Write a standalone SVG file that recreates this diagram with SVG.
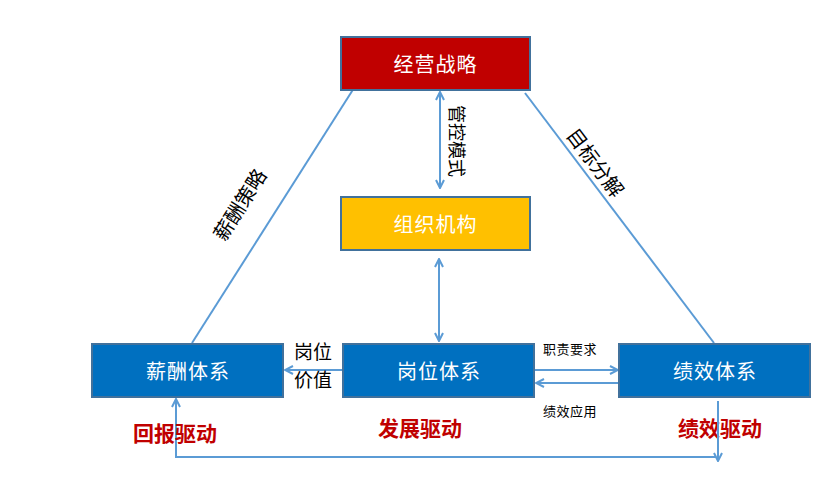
<svg xmlns="http://www.w3.org/2000/svg" width="840" height="488" viewBox="0 0 840 488">
<style>
.box{stroke:#41719C;stroke-width:2}
.bt{font-family:"Noto Sans CJK SC","Noto Sans",sans-serif;font-size:20px;fill:#fff;text-anchor:middle;dominant-baseline:central;letter-spacing:1px}
.lbl{font-family:"Noto Sans CJK SC","Noto Sans",sans-serif;fill:#000;text-anchor:middle;dominant-baseline:central}
.drv{font-family:"Noto Sans CJK SC","Noto Sans",sans-serif;font-size:21px;font-weight:bold;fill:#C00000;text-anchor:middle;dominant-baseline:central}
.ln{stroke:#5B9BD5;stroke-width:2;fill:none}
</style>
<defs>
<marker id="arr" viewBox="0 0 10 10" refX="9" refY="5" markerWidth="10" markerHeight="10" markerUnits="userSpaceOnUse" orient="auto-start-reverse">
<path d="M1,1 L9,5 L1,9" fill="none" stroke="#5B9BD5" stroke-width="2"/>
</marker>
</defs>
<rect width="840" height="488" fill="#fff"/>
<g id="connectors">
<line class="ln" x1="354" y1="88" x2="192" y2="343"/>
<line class="ln" x1="525" y1="93" x2="714" y2="343"/>
<line class="ln" x1="440" y1="92" x2="440" y2="188" marker-start="url(#arr)" marker-end="url(#arr)"/>
<line class="ln" x1="439" y1="259" x2="439" y2="341" marker-start="url(#arr)" marker-end="url(#arr)"/>
<line class="ln" x1="343" y1="370" x2="285" y2="370" marker-end="url(#arr)"/>
<line class="ln" x1="535" y1="370" x2="618" y2="370" marker-end="url(#arr)"/>
<line class="ln" x1="619" y1="383" x2="536" y2="383" marker-end="url(#arr)"/>
<polyline class="ln" points="716,457 176,457 176,399" marker-end="url(#arr)"/>
</g>
<g id="n-strategy">
<rect class="box" x="341" y="37" width="189" height="53" fill="#C00000"/>
<text class="bt" x="435.5" y="63.5">经营战略</text>
</g>
<g id="n-org">
<rect class="box" x="341" y="197" width="189" height="53" fill="#FFC000"/>
<text class="bt" x="435.5" y="223.5">组织机构</text>
</g>
<g id="n-pay">
<rect class="box" x="92" y="344" width="191" height="53" fill="#0070C0"/>
<text class="bt" x="188" y="370.5">薪酬体系</text>
</g>
<g id="n-post">
<rect class="box" x="343" y="344" width="191" height="53" fill="#0070C0"/>
<text class="bt" x="439" y="370.5">岗位体系</text>
</g>
<g id="n-perf">
<rect class="box" x="619" y="344" width="191" height="53" fill="#0070C0"/>
<text class="bt" x="715" y="370.5">绩效体系</text>
</g>
<g id="labels">
<text class="lbl" font-size="18" transform="translate(458,141) rotate(90)">管控模式</text>
<text class="lbl" font-size="20" transform="translate(239,204) rotate(-57.7)">薪酬策略</text>
<text class="lbl" font-size="20" transform="translate(596,162) rotate(53)">目标分解</text>
<text class="lbl" font-size="19" x="313" y="350">岗位</text>
<text class="lbl" font-size="19" x="313" y="378">价值</text>
<text class="lbl" font-size="13" x="570" y="348" letter-spacing="0.5">职责要求</text>
<text class="lbl" font-size="13" x="570" y="410" letter-spacing="0.5">绩效应用</text>
<text class="drv" x="175" y="432">回报驱动</text>
<text class="drv" x="420" y="427">发展驱动</text>
<text class="drv" x="720" y="427">绩效驱动</text>
</g>
<line class="ln" x1="718" y1="401" x2="718" y2="461" marker-end="url(#arr)"/>
</svg>
